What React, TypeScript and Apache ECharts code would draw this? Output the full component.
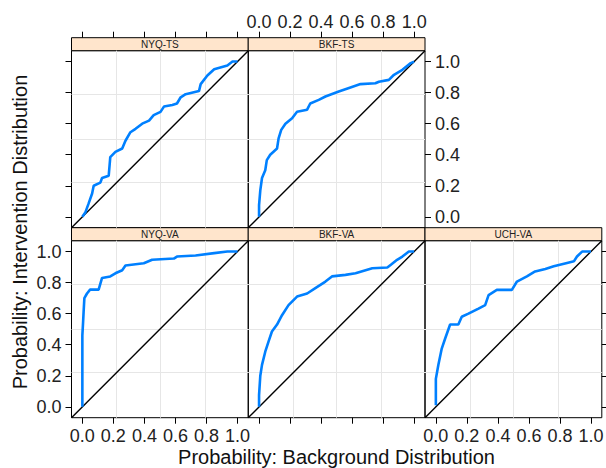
import React, { useEffect, useRef } from "react";
import * as echarts from "echarts";

// ---------- data ----------
const panelNames = ["NYQ-TS", "BKF-TS", "NYQ-VA", "BKF-VA", "UCH-VA"];
const tickValues = [0, 0.2, 0.4, 0.6, 0.8, 1.0];
const axisMin = -0.07;
const axisMax = 1.07;
const diagonal = [[-0.07, -0.07], [1.07, 1.07]];

const nyqTsX = [0, 0.02, 0.04, 0.063, 0.073, 0.116, 0.127, 0.17, 0.18, 0.213, 0.257, 0.278, 0.31, 0.343, 0.386, 0.43, 0.46, 0.504, 0.526, 0.58, 0.61, 0.634, 0.666, 0.752, 0.763, 0.806, 0.85, 0.935, 0.968, 1.0];
const nyqTsY = [0, 0.03, 0.085, 0.15, 0.2, 0.22, 0.25, 0.265, 0.385, 0.418, 0.44, 0.49, 0.545, 0.567, 0.6, 0.62, 0.655, 0.676, 0.71, 0.72, 0.73, 0.77, 0.79, 0.81, 0.855, 0.91, 0.95, 0.975, 1.0, 1.0];

const bkfTsX = [0, 0, 0.008, 0.019, 0.04, 0.05, 0.072, 0.116, 0.126, 0.143, 0.17, 0.213, 0.245, 0.31, 0.33, 0.385, 0.428, 0.514, 0.58, 0.654, 0.75, 0.773, 0.837, 0.87, 0.924, 0.978, 1.0];
const bkfTsY = [0, 0.075, 0.17, 0.25, 0.3, 0.365, 0.4, 0.44, 0.505, 0.56, 0.6, 0.635, 0.677, 0.69, 0.73, 0.753, 0.775, 0.807, 0.83, 0.855, 0.86, 0.87, 0.882, 0.915, 0.947, 0.99, 1.0];

const nyqVaX = [0, 0, 0, 0.005, 0.008, 0.013, 0.03, 0.05, 0.105, 0.127, 0.18, 0.213, 0.257, 0.278, 0.396, 0.45, 0.59, 0.61, 0.73, 0.85, 0.935, 1.0];
const nyqVaY = [0, 0.07, 0.46, 0.55, 0.61, 0.7, 0.73, 0.755, 0.755, 0.83, 0.84, 0.86, 0.88, 0.91, 0.925, 0.947, 0.955, 0.968, 0.975, 0.99, 1.0, 1.0];

const bkfVaX = [0, 0, 0.008, 0.019, 0.04, 0.061, 0.083, 0.116, 0.148, 0.19, 0.245, 0.31, 0.363, 0.428, 0.47, 0.557, 0.622, 0.73, 0.827, 0.85, 0.89, 0.924, 0.966, 1.0];
const bkfVaY = [0, 0.075, 0.2, 0.27, 0.355, 0.42, 0.485, 0.53, 0.59, 0.655, 0.71, 0.73, 0.765, 0.807, 0.84, 0.85, 0.86, 0.893, 0.897, 0.915, 0.947, 0.968, 1.0, 1.0];

const uchVaX = [0, 0, 0.016, 0.038, 0.06, 0.092, 0.145, 0.167, 0.21, 0.275, 0.318, 0.34, 0.393, 0.49, 0.523, 0.587, 0.64, 0.706, 0.76, 0.846, 0.89, 0.91, 0.943, 1.0];
const uchVaY = [0.01, 0.18, 0.27, 0.375, 0.44, 0.53, 0.53, 0.58, 0.6, 0.633, 0.655, 0.72, 0.753, 0.753, 0.807, 0.84, 0.872, 0.888, 0.905, 0.927, 0.937, 0.968, 1.0, 1.0];

const curvesX = [nyqTsX, bkfTsX, nyqVaX, bkfVaX, uchVaX];
const curvesY = [nyqTsY, bkfTsY, nyqVaY, bkfVaY, uchVaY];

// ---------- layout ----------
const FONT = "'Liberation Sans', Arial, sans-serif";
const colLeft = [71.5, 248.2, 425];
const rowTop = [50.7, 240.7];
const PW = 176.8;
const PH = 177;
const STRIP = 13;
const cells = [
  { c: 0, r: 0 },
  { c: 1, r: 0 },
  { c: 0, r: 1 },
  { c: 1, r: 1 },
  { c: 2, r: 1 },
];
// which axes show ticks / labels: [tick, label]
const axisCfg = [
  { b: [0, 0], t: [1, 0], l: [1, 0], r: [0, 0] },
  { b: [0, 0], t: [1, 1], l: [0, 0], r: [1, 1] },
  { b: [1, 1], t: [0, 0], l: [1, 1], r: [0, 0] },
  { b: [1, 0], t: [0, 0], l: [0, 0], r: [0, 0] },
  { b: [1, 1], t: [0, 0], l: [0, 0], r: [1, 0] },
];

const gridLineVals = [1, 2, 3].map((k) => axisMin + (k * (axisMax - axisMin)) / 4);

function fmt(v: number) {
  return v.toFixed(1);
}

function makeAxis(gridIndex: number, position: string, tick: number, label: number, offset: number, margin: number) {
  return {
    type: "value",
    gridIndex,
    position,
    offset,
    min: axisMin,
    max: axisMax,
    splitLine: { show: false },
    axisLine: { show: false, onZero: false },
    axisTick: {
      show: !!tick,
      customValues: tickValues,
      length: 6,
      inside: false,
      lineStyle: { color: "#000", width: 1 },
    },
    axisLabel: {
      show: !!label,
      customValues: tickValues,
      formatter: fmt,
      fontSize: 18,
      fontFamily: FONT,
      color: "#222",
      margin,
      hideOverlap: false,
    },
  };
}

export default function App() {
  const ref = useRef<HTMLDivElement>(null);
  useEffect(() => {
    if (!ref.current) return;
    const chart = echarts.init(ref.current, undefined, { renderer: "svg" });

    const grid: any[] = [];
    const xAxis: any[] = [];
    const yAxis: any[] = [];
    const series: any[] = [];
    const graphic: any[] = [];

    cells.forEach((cell, i) => {
      const left = colLeft[cell.c];
      const top = rowTop[cell.r];
      grid.push({
        left,
        top,
        width: PW,
        height: PH,
        show: true,
        borderColor: "#000",
        borderWidth: 1,
        backgroundColor: "transparent",
        outerBoundsMode: "none",
        containLabel: false,
      });
      const cfg = axisCfg[i];
      xAxis.push(makeAxis(i, "bottom", cfg.b[0], cfg.b[1], 0, 9));
      xAxis.push(makeAxis(i, "top", cfg.t[0], cfg.t[1], cell.r === 0 ? STRIP : 0, 7));
      yAxis.push(makeAxis(i, "left", cfg.l[0], cfg.l[1], 0, 10));
      yAxis.push(makeAxis(i, "right", cfg.r[0], cfg.r[1], 0, 10));

      // reference grid lines
      series.push({
        type: "line",
        xAxisIndex: 2 * i,
        yAxisIndex: 2 * i,
        data: [],
        z: 1,
        silent: true,
        markLine: {
          silent: true,
          z: 1,
          symbol: ["none", "none"],
          label: { show: false },
          animation: false,
          lineStyle: { color: "#e6e6e6", type: "solid", width: 1 },
          data: [
            ...gridLineVals.map((v) => ({ xAxis: v })),
            ...gridLineVals.map((v) => ({ yAxis: v })),
          ],
        },
      });
      // diagonal
      series.push({
        type: "line",
        xAxisIndex: 2 * i,
        yAxisIndex: 2 * i,
        data: diagonal,
        showSymbol: false,
        silent: true,
        z: 3,
        lineStyle: { color: "#000", width: 1.4 },
      });
      // curve
      series.push({
        type: "line",
        xAxisIndex: 2 * i,
        yAxisIndex: 2 * i,
        data: curvesX[i].map((x, k) => [x, curvesY[i][k]]),
        showSymbol: false,
        silent: true,
        z: 4,
        lineStyle: { color: "#0080ff", width: 2.6 },
      });

      // strip
      graphic.push({
        type: "rect",
        shape: { x: left, y: top - STRIP, width: PW, height: STRIP },
        style: { fill: "#ffe5cc", stroke: "#000", lineWidth: 1 },
        silent: true,
      });
      graphic.push({
        type: "text",
        x: left + PW / 2,
        y: top - STRIP / 2 + 0.5,
        style: {
          text: panelNames[i],
          fontSize: 10,
          fontFamily: FONT,
          fill: "#222",
          align: "center",
          verticalAlign: "middle",
        },
        silent: true,
      });
    });

    graphic.push({
      type: "text",
      x: 20,
      y: 232,
      rotation: Math.PI / 2,
      style: {
        text: "Probability: Intervention Distribution",
        fontSize: 20,
        fontFamily: FONT,
        fill: "#111",
        align: "center",
        verticalAlign: "middle",
      },
      silent: true,
    });
    graphic.push({
      type: "text",
      x: 336.5,
      y: 457,
      style: {
        text: "Probability: Background Distribution",
        fontSize: 20,
        fontFamily: FONT,
        fill: "#111",
        align: "center",
        verticalAlign: "middle",
      },
      silent: true,
    });

    chart.setOption({
      animation: false,
      backgroundColor: "#fff",
      grid,
      xAxis,
      yAxis,
      series,
      graphic,
    });
    return () => chart.dispose();
  }, []);
  return (
    <div
      ref={ref}
      style={{ position: "fixed", left: 0, top: 0, width: 606, height: 468 }}
    />
  );
}
